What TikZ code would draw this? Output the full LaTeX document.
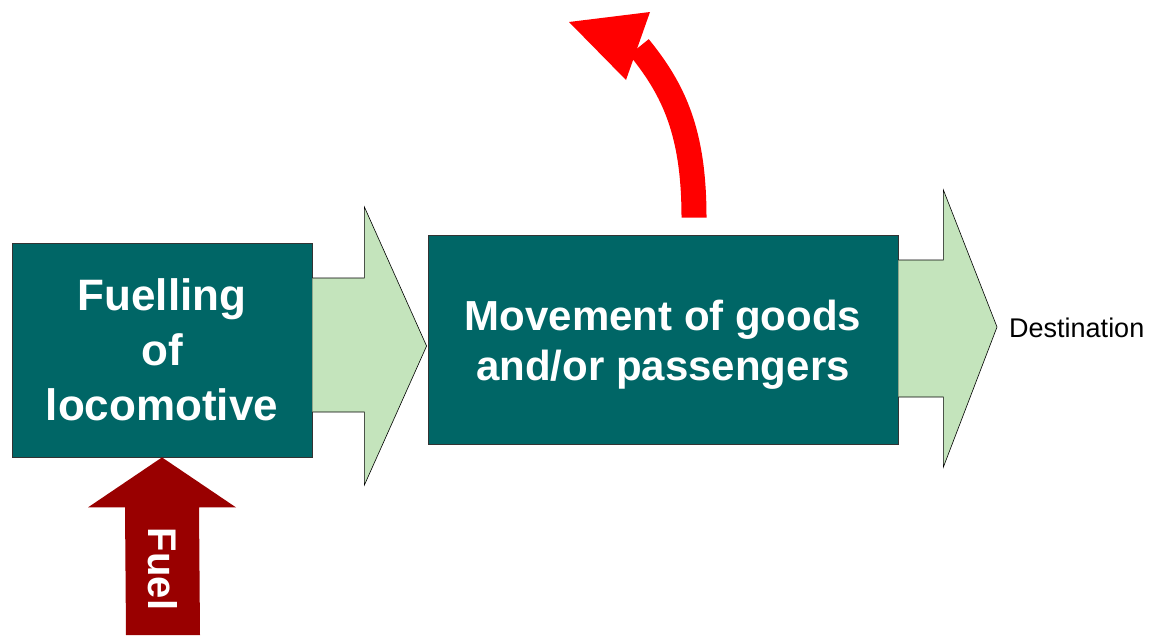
\documentclass[tikz,border=0pt]{standalone}
\usepackage{fontspec}
\setmainfont{Liberation Sans}
\usepackage{xcolor}
\usetikzlibrary{calc,positioning}
\definecolor{color_box_teal}{HTML}{006666}
\definecolor{color_flow_green}{HTML}{C4E4BC}
\definecolor{color_fuel_red}{HTML}{990000}
\definecolor{color_loss_red}{HTML}{FF0000}

\begin{document}
\begin{tikzpicture}[x=1pt,y=-1pt,every node/.style={inner sep=0pt}]
				\useasboundingbox (0, 0) rectangle (1150, 635);
				\tikzset{
					stagebox/.style={draw=black!80,line width=0.8pt,fill=color_box_teal,text=white,align=center,font=\bfseries},
					flowarrow/.style={draw=black,line width=0.6pt,fill=color_flow_green,line join=miter}
				}

				% Stages
				\node[stagebox,minimum width=300pt,minimum height=214pt,font=\bfseries\fontsize{44}{55}\selectfont]
					(fuelling) at (162, 350) {Fuelling\\of\\locomotive};
				\node[stagebox,minimum width=470pt,minimum height=209pt,font=\bfseries\fontsize{42}{50}\selectfont]
					(movement) at (663, 339.5) {\raisebox{0pt}[\dimexpr\height+12pt][\depth]{\begin{tabular}{@{}c@{}}Movement of goods\\and/or passengers\end{tabular}}};
				\node[anchor=west,font=\fontsize{27}{32}\selectfont]
					(destination) at (1009, 328) {Destination};

				% Points
				\coordinate (FA) at ($(fuelling.east) + (0, -72)$);
				\coordinate (FB) at ($(fuelling.east) + (0, 62)$);
				\coordinate (FT) at ($(movement.west) + (-1, 6.5)$);
				\coordinate (MA) at ($(movement.east) + (0, -79.5)$);
				\coordinate (MB) at ($(movement.east) + (0, 57.5)$);
				\coordinate (MT) at ($(destination.west) + (-12, -1)$);

				% Green flow arrows
				\draw[flowarrow]
					(FA) -- ++(52, 0) -- ++(0, -71) -- (FT) -- ($(FB) + (52, 73)$) -- ++(0, -73) -- (FB)
					;
				\draw[flowarrow]
					(MA) -- ++(45, 0) -- ++(0, -70) -- (MT) -- ($(MB) + (45, 70)$) -- ++(0, -70) -- (MB)
					;

				% Fuel input
				\coordinate (FuelTip) at (fuelling.south);
				\fill[color_fuel_red]
					(FuelTip) --
					($(FuelTip) + (74, 50)$) --
					($(FuelTip) + (37, 50)$) --
					(200, 635) --
					(126, 635) --
					($(FuelTip) + (-37, 50)$) --
					($(FuelTip) + (-74, 50)$) --
					cycle;
				\node[rotate=-90,text=white,font=\bfseries\fontsize{40}{48}\selectfont]
					(fuel) at (163, 569) {Fuel};

				% Losses
				\coordinate (LossBase) at ($(movement.north) + (31, -17)$);
				\coordinate (LossHead) at (639, 47);
				\draw[color_loss_red,line width=25pt]
					(LossBase) .. controls ($(LossBase) + (0, -85)$) and (674, 90) .. (LossHead)
					;
				\fill[color_loss_red]
					(650, 12) -- (569, 22) -- (626, 80) -- cycle
					;
			\end{tikzpicture}
\end{document}
